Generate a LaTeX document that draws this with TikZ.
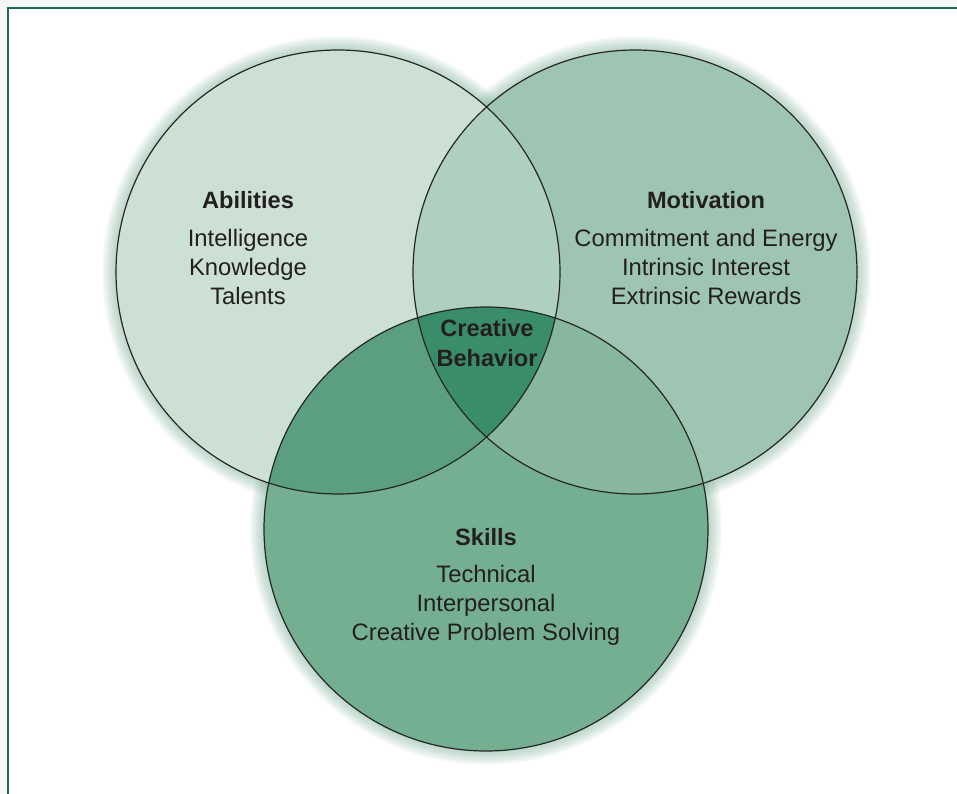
\documentclass[tikz,border=0pt]{standalone}
\usepackage{fontspec}
\setmainfont{Liberation Sans}
\usetikzlibrary{positioning}
\definecolor{abilfill}{HTML}{CCE0D5}
\definecolor{motivfill}{HTML}{9EC5B1}
\definecolor{skillfill}{HTML}{75AF92}
\definecolor{amfill}{HTML}{B0D0BF}
\definecolor{asfill}{HTML}{5C9F80}
\definecolor{msfill}{HTML}{87B79D}
\definecolor{corefill}{HTML}{3A8D69}
\definecolor{glowcol}{HTML}{7FB39A}
\definecolor{framecol}{HTML}{1B6B48}
\definecolor{pagegray}{HTML}{F6F6F6}
\definecolor{txt}{HTML}{231F20}
\tikzset{ring/.style = {draw=black!85, line width=1.2pt}}
\tikzset{head/.style = {font=\bfseries\fontsize{23.6}{28}\selectfont, text=txt, anchor=base, inner sep=0}}
\tikzset{body/.style = {font=\fontsize{23.8}{29}\selectfont, text=txt, align=center, anchor=base, inner sep=0}}

\begin{document}
\begin{tikzpicture}[x=1pt, y=-1pt]
    \useasboundingbox (0, 0) rectangle (957, 793);
    \fill[pagegray] (0, 0) rectangle (957, 793);
    \fill[white] (8, 8) rectangle (980, 820);
    \draw[framecol, line width=2pt] (8, 8) rectangle (980, 820);
    \coordinate (abil) at (338, 272);
    \coordinate (motiv) at (635, 272);
    \coordinate (skill) at (486, 529);
    % soft glow round the circles
    \foreach \k in {1,...,14} {
      \fill[glowcol, opacity=0.045] (abil) circle [radius=222pt+\k pt];
      \fill[glowcol, opacity=0.045] (motiv) circle [radius=222pt+\k pt];
      \fill[glowcol, opacity=0.045] (skill) circle [radius=222pt+\k pt];
    }
    \fill[abilfill] (abil) circle [radius=222pt];
    \fill[motivfill] (motiv) circle [radius=222pt];
    \fill[skillfill] (skill) circle [radius=222pt];
    % overlaps
    \begin{scope}
      \clip (abil) circle [radius=222pt];
      \fill[amfill] (motiv) circle [radius=222pt];
      \fill[asfill] (skill) circle [radius=222pt];
      \clip (motiv) circle [radius=222pt];
      \fill[corefill] (skill) circle [radius=222pt];
    \end{scope}
    \begin{scope}[even odd rule]
      \clip (motiv) circle [radius=222pt];
      \clip (0, 0) rectangle (957, 793) (abil) circle [radius=222pt];
      \fill[msfill] (skill) circle [radius=222pt];
    \end{scope}
    \draw[ring] (abil) circle [radius=222pt];
    \draw[ring] (motiv) circle [radius=222pt];
    \draw[ring] (skill) circle [radius=222pt];
    % labels (body nodes sit on the baseline of their last line)
    \node[head] (abilhead) at (248, 208) {Abilities};
    \node[body] (abilbody) at (248, 304) {Intelligence\\Knowledge\\Talents};
    \node[head] (motivhead) at (706, 208) {Motivation};
    \node[body] (motivbody) at (706, 304) {Commitment and Energy\\Intrinsic Interest\\Extrinsic Rewards};
    \node[head] (skillhead) at (486, 545) {Skills};
    \node[body] (skillbody) at (486, 640) {Technical\\Interpersonal\\Creative Problem Solving};
    \node[head, align=center, font=\bfseries\fontsize{23.6}{30}\selectfont] (core) at (487, 366) {Creative\\Behavior};
\end{tikzpicture}
\end{document}
